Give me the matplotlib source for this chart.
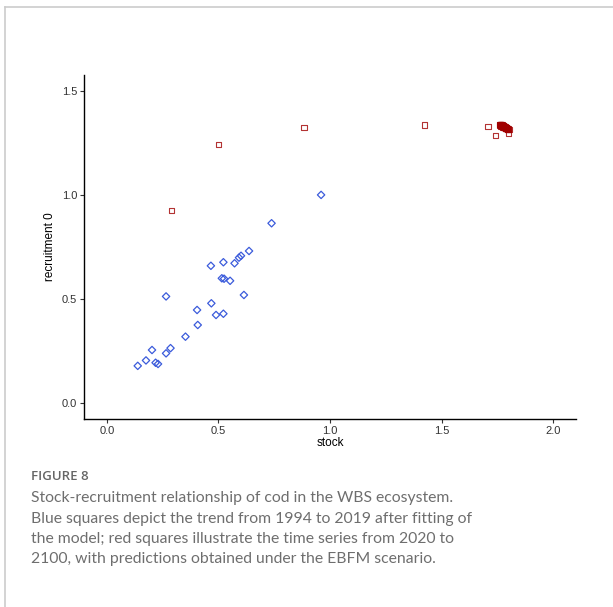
# ============================================================
# FIGURE 8: Stock-recruitment relationship of cod (WBS)
# ============================================================

import numpy as np
import matplotlib.pyplot as plt
from matplotlib.lines import Line2D

# ------------------------------------------------------------
# Data
# ------------------------------------------------------------
# fitted 1994-2019 (blue)
fit_stock = [0.960, 0.738, 0.637, 0.601, 0.592, 0.572, 0.522, 0.466, 0.515,
             0.525, 0.552, 0.265, 0.614, 0.468, 0.404, 0.489, 0.522, 0.407,
             0.352, 0.202, 0.285, 0.265, 0.175, 0.138, 0.218, 0.229]
fit_recruit = [1.000, 0.864, 0.731, 0.708, 0.699, 0.672, 0.677, 0.660, 0.600,
               0.598, 0.588, 0.513, 0.520, 0.480, 0.448, 0.424, 0.430, 0.376,
               0.320, 0.256, 0.265, 0.240, 0.206, 0.180, 0.195, 0.189]

# projection 2020-2100 under EBFM (red)
proj_stock = [0.288, 0.499, 0.883, 1.422, 1.708, 1.743, 1.800, 1.804,
              1.761, 1.762, 1.763, 1.764, 1.765, 1.766, 1.767, 1.768, 1.769, 1.770,
              1.771, 1.772, 1.773, 1.774, 1.775, 1.776, 1.777, 1.778, 1.779, 1.780,
              1.781, 1.782, 1.783, 1.784, 1.785, 1.786, 1.787, 1.788, 1.789, 1.790,
              1.791, 1.792, 1.793, 1.794, 1.795, 1.796, 1.765, 1.768, 1.772, 1.775,
              1.764, 1.767, 1.770, 1.773, 1.776, 1.779, 1.782, 1.785, 1.788, 1.791,
              1.763, 1.766, 1.769, 1.772, 1.775, 1.778, 1.781, 1.784, 1.787, 1.790,
              1.777, 1.779, 1.781, 1.783, 1.785, 1.787, 1.789, 1.793, 1.795, 1.797,
              1.799, 1.798, 1.786]
proj_recruit = [0.924, 1.243, 1.324, 1.335, 1.327, 1.286, 1.296, 1.315,
                1.336, 1.335, 1.336, 1.334, 1.335, 1.333, 1.334, 1.332, 1.333, 1.331,
                1.332, 1.330, 1.331, 1.329, 1.330, 1.328, 1.329, 1.327, 1.328, 1.326,
                1.326, 1.325, 1.324, 1.324, 1.323, 1.322, 1.322, 1.321, 1.320, 1.320,
                1.319, 1.318, 1.318, 1.317, 1.316, 1.316, 1.338, 1.337, 1.334, 1.333,
                1.331, 1.330, 1.328, 1.327, 1.325, 1.324, 1.322, 1.321, 1.319, 1.317,
                1.338, 1.337, 1.336, 1.335, 1.333, 1.331, 1.329, 1.327, 1.325, 1.323,
                1.333, 1.331, 1.330, 1.328, 1.327, 1.325, 1.324, 1.321, 1.320, 1.318,
                1.316, 1.313, 1.318]

x_ticks = [0.0, 0.5, 1.0, 1.5, 2.0]
y_ticks = [0.0, 0.5, 1.0, 1.5]

caption_title = "FIGURE 8"
caption_lines = [
    "Stock-recruitment relationship of cod in the WBS ecosystem.",
    "Blue squares depict the trend from 1994 to 2019 after fitting of",
    "the model; red squares illustrate the time series from 2020 to",
    "2100, with predictions obtained under the EBFM scenario.",
]

# ------------------------------------------------------------
# Figure
# ------------------------------------------------------------
fig = plt.figure(figsize=(6.13, 6.07), dpi=100)
ax = fig.add_axes([0.137, 0.3097, 0.8027, 0.5667])

ax.scatter(fit_stock, fit_recruit, marker="D", s=14, facecolors="none",
           edgecolors="#3B5BDB", linewidths=0.9, zorder=3)
ax.scatter(proj_stock, proj_recruit, marker="s", s=14, facecolors="none",
           edgecolors="#A00000", alpha=0.8, linewidths=0.8, zorder=3)

ax.set_xlim(-0.103, 2.103)
ax.set_ylim(-0.075, 1.575)
ax.set_xticks(x_ticks)
ax.set_yticks(y_ticks)
ax.set_xticklabels([f"{v:.1f}" for v in x_ticks])
ax.set_yticklabels([f"{v:.1f}" for v in y_ticks])

for s in ["top", "right"]:
    ax.spines[s].set_visible(False)
for s in ["left", "bottom"]:
    ax.spines[s].set_linewidth(1.0)
    ax.spines[s].set_color("black")

ax.tick_params(axis="both", length=3, width=0.8, color="#333333",
               labelsize=8, labelcolor="#333333", pad=2)
for lbl in ax.get_xticklabels() + ax.get_yticklabels():
    lbl.set_family("Liberation Sans")

ax.set_xlabel("stock", fontsize=8.5, family="Liberation Sans", labelpad=1)
ax.set_ylabel("recruitment 0", fontsize=8.5, family="Liberation Sans", labelpad=4)

# ------------------------------------------------------------
# Page frame and caption
# ------------------------------------------------------------
fig.add_artist(Line2D([5 / 613, 5 / 613], [0, 1 - 7 / 607], color="#CCCCCC", lw=1.2))
fig.add_artist(Line2D([5 / 613, 1], [1 - 7 / 607, 1 - 7 / 607], color="#CCCCCC", lw=1.2))

fig.text(31 / 613, 1 - 476 / 607, caption_title, fontsize=9.5, family="Open Sans",
         fontweight="semibold", color="#666666", va="center")
for i, line in enumerate(caption_lines):
    fig.text(31 / 613, 1 - (498 + 20.5 * i) / 607, line, fontsize=11.3,
             family="Lato", color="#6E6E6E", va="center")

plt.savefig("out.png", dpi=100)
